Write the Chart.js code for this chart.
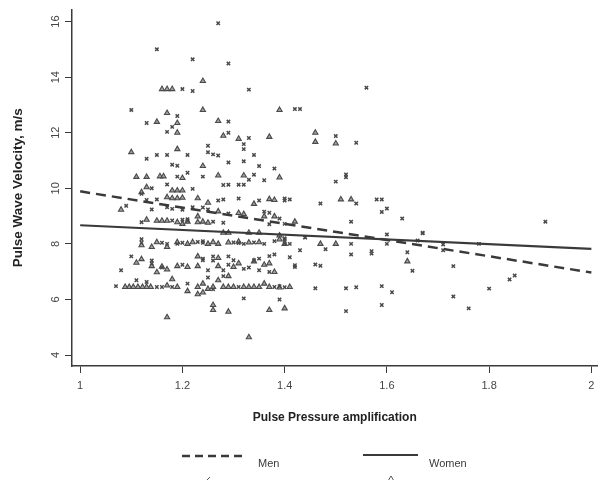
<!DOCTYPE html>
<html>
<head>
<meta charset="utf-8">
<script src="https://cdn.jsdelivr.net/npm/chart.js@4/dist/chart.umd.min.js"></script>
<style>
  html, body { margin: 0; padding: 0; background: #fff; }
  #wrap { width: 603px; height: 480px; position: relative; }
</style>
</head>
<body>
<div id="wrap"><canvas id="pwv-chart"></canvas></div>
<script>
// Pulse wave velocity vs pulse pressure amplification, by sex

const xTicks = [1, 1.2, 1.4, 1.6, 1.8, 2];
const yTicks = [4, 6, 8, 10, 12, 14, 16];

// regression lines (value at x=1 and x=2)
const menFit = [[1, 9.89], [2, 6.97]];
const womenFit = [[1, 8.67], [2, 7.82]];

// men as [ppa, pwv]
const menPoints = [
  [1.27,15.94],[1.15,15.0],[1.22,14.64],[1.29,14.49],[1.20,13.57],[1.22,13.5],[1.33,13.55],[1.56,13.62],
  [1.10,12.82],[1.42,12.85],[1.43,12.85],[1.13,12.35],[1.19,12.6],[1.18,12.21],[1.17,12.03],[1.29,12.4],
  [1.29,12.0],[1.33,11.81],[1.50,11.88],[1.54,11.64],[1.13,11.06],[1.15,11.2],[1.17,11.2],[1.21,11.2],
  [1.25,11.53],[1.25,11.3],[1.26,11.22],[1.27,11.18],[1.32,11.59],[1.32,11.41],[1.34,11.2],[1.18,10.85],
  [1.19,10.81],[1.21,10.56],[1.29,10.93],[1.32,10.97],[1.35,10.8],[1.38,10.71],[1.19,10.42],[1.24,10.42],
  [1.34,10.49],[1.33,10.31],[1.36,10.29],[1.52,10.5],[1.52,10.4],[1.50,10.24],[1.17,10.14],[1.28,10.12],
  [1.29,10.13],[1.31,10.13],[1.32,10.13],[1.14,10.0],[1.22,9.98],[1.12,9.8],[1.13,9.58],[1.15,9.6],
  [1.27,9.56],[1.28,9.6],[1.31,9.63],[1.35,9.56],[1.40,9.63],[1.40,9.56],[1.41,9.6],[1.47,9.45],
  [1.54,9.45],[1.58,9.6],[1.59,9.6],[1.59,9.15],[1.60,9.27],[1.63,8.91],[1.91,8.8],[1.09,9.37],
  [1.14,9.24],[1.17,9.32],[1.18,9.26],[1.20,9.23],[1.22,9.32],[1.24,9.31],[1.25,9.24],[1.29,9.09],
  [1.36,9.16],[1.37,9.12],[1.53,8.8],[1.39,8.91],[1.67,8.38],[1.12,8.78],[1.18,8.84],[1.20,8.87],
  [1.21,8.84],[1.21,8.89],[1.37,8.71],[1.40,8.72],[1.40,8.16],[1.40,8.2],[1.44,8.23],[1.44,8.24],
  [1.60,8.34],[1.66,8.12],[1.67,8.4],[1.41,8.0],[1.53,8.0],[1.60,8.0],[1.71,7.98],[1.78,8.0],
  [1.23,8.07],[1.24,8.04],[1.30,8.05],[1.31,8.03],[1.34,8.05],[1.36,8.0],[1.38,8.1],[1.40,8.02],
  [1.12,8.17],[1.12,8.04],[1.16,8.04],[1.17,8.0],[1.19,8.0],[1.20,8.04],[1.43,7.77],[1.48,7.81],
  [1.53,7.62],[1.57,7.65],[1.57,7.74],[1.64,7.7],[1.71,7.77],[1.41,7.52],[1.42,7.17],[1.42,7.23],
  [1.46,7.26],[1.47,7.21],[1.65,7.03],[1.73,7.2],[1.10,7.55],[1.08,7.05],[1.14,7.4],[1.14,7.29],
  [1.16,7.15],[1.24,7.41],[1.24,7.47],[1.26,7.55],[1.26,7.4],[1.25,7.05],[1.29,7.55],[1.30,7.41],
  [1.28,7.05],[1.32,7.1],[1.33,7.15],[1.34,7.41],[1.35,7.47],[1.35,7.05],[1.37,6.99],[1.37,7.56],
  [1.38,7.62],[1.28,6.84],[1.11,6.69],[1.13,6.63],[1.07,6.48],[1.15,6.45],[1.16,6.45],[1.18,6.45],
  [1.21,6.57],[1.25,6.79],[1.26,6.37],[1.38,6.45],[1.39,6.48],[1.40,6.44],[1.46,6.4],[1.52,6.4],
  [1.54,6.44],[1.59,6.48],[1.61,6.26],[1.80,6.39],[1.84,6.72],[1.85,6.86],[1.73,6.11],[1.32,6.04],
  [1.39,6.0],[1.52,5.58],[1.59,5.8],[1.76,5.68],
  [1.26,8.8],[1.28,8.76],[1.24,8.1],[1.32,8.0],[1.20,7.25],[1.29,7.25],[1.31,6.45]
];

// women
const womenPoints = [
  [1.24,13.86],[1.16,13.57],[1.17,13.57],[1.18,13.57],[1.17,12.71],[1.24,12.82],[1.39,12.82],[1.15,12.39],
  [1.19,12.35],[1.27,12.42],[1.19,12.0],[1.28,11.89],[1.37,11.85],[1.31,11.78],[1.46,12.0],[1.46,11.67],
  [1.50,11.61],[1.10,11.3],[1.19,11.41],[1.24,10.8],[1.11,10.41],[1.13,10.41],[1.156,10.43],[1.163,10.43],
  [1.20,10.37],[1.27,10.46],[1.32,10.46],[1.39,10.39],[1.13,10.04],[1.12,9.86],[1.18,9.92],[1.19,9.92],
  [1.20,9.92],[1.17,9.68],[1.18,9.64],[1.19,9.64],[1.20,9.66],[1.08,9.23],[1.23,9.64],[1.25,9.48],
  [1.34,9.44],[1.37,9.61],[1.38,9.58],[1.51,9.6],[1.53,9.6],[1.27,9.17],[1.31,9.11],[1.32,9.07],
  [1.36,8.99],[1.38,8.99],[1.23,8.99],[1.24,8.8],[1.42,8.8],[1.13,8.87],[1.15,8.83],[1.16,8.83],
  [1.17,8.83],[1.20,8.72],[1.28,8.4],[1.29,8.4],[1.33,8.4],[1.35,8.4],[1.39,8.3],[1.12,7.95],
  [1.14,7.89],[1.17,7.89],[1.21,8.0],[1.39,8.16],[1.40,8.0],[1.47,8.0],[1.50,8.0],[1.25,8.0],
  [1.27,8.0],[1.29,8.05],[1.33,8.05],[1.11,7.32],[1.12,7.45],[1.14,7.2],[1.16,7.18],[1.15,6.98],
  [1.17,7.08],[1.23,7.55],[1.27,7.49],[1.27,7.2],[1.31,7.3],[1.34,7.37],[1.36,7.25],[1.37,7.3],
  [1.38,6.99],[1.64,7.37],[1.29,6.84],[1.088,6.45],[1.096,6.45],[1.104,6.45],[1.113,6.45],[1.122,6.45],
  [1.130,6.45],[1.138,6.45],[1.17,6.5],[1.18,6.73],[1.19,6.45],[1.21,6.3],[1.24,6.57],[1.25,6.38],
  [1.26,6.45],[1.27,6.69],[1.29,6.45],[1.30,6.45],[1.32,6.45],[1.33,6.45],[1.36,6.57],[1.37,6.45],
  [1.41,6.45],[1.39,6.43],[1.17,5.36],[1.23,6.19],[1.26,5.8],[1.26,5.62],[1.29,5.56],[1.37,5.62],
  [1.40,5.68],[1.33,4.64],[1.24,6.25],
  [1.19,8.78],[1.21,8.8],[1.23,8.78],[1.25,8.76],[1.15,8.06],[1.19,8.06],[1.22,8.06],[1.26,8.06],
  [1.31,8.08],[1.35,8.06],[1.19,7.2],[1.21,7.17],[1.23,7.2],[1.30,7.17],[1.23,6.45],[1.28,6.45],
  [1.34,6.45],[1.35,6.45]
];

const ink = '#3a3a3a';
const fontFamily = '"Liberation Sans", Arial, sans-serif';

function toXY(arr) {
  return arr.map(p => ({ x: p[0], y: p[1] }));
}

// legend under the x title, drawn like the R legend
const bottomLegend = {
  id: 'bottomLegend',
  afterDraw(chart) {
    const ctx = chart.ctx;
    ctx.save();
    ctx.strokeStyle = ink;
    ctx.lineWidth = 2.5;
    ctx.setLineDash([8, 5]);
    ctx.beginPath();
    ctx.moveTo(182, 456);
    ctx.lineTo(242, 456);
    ctx.stroke();
    ctx.setLineDash([]);
    ctx.lineWidth = 2.2;
    ctx.beginPath();
    ctx.moveTo(363, 455);
    ctx.lineTo(418, 455);
    ctx.stroke();

    ctx.fillStyle = ink;
    ctx.font = '11px ' + fontFamily;
    ctx.textBaseline = 'middle';
    ctx.fillText('Men', 258, 464);
    ctx.fillText('Women', 429, 464);

    // legend symbols, cut off by the bottom edge
    ctx.lineWidth = 1;
    ctx.strokeStyle = '#555';
    ctx.beginPath();
    ctx.moveTo(210, 477);
    ctx.lineTo(206, 481);
    ctx.moveTo(388, 481);
    ctx.lineTo(391, 476);
    ctx.lineTo(394, 481);
    ctx.stroke();
    ctx.restore();
  }
};

const ctx = document.getElementById('pwv-chart').getContext('2d');

new Chart(ctx, {
  type: 'scatter',
  data: {
    datasets: [
      {
        label: 'Men fit',
        data: toXY(menFit),
        showLine: true,
        borderColor: ink,
        borderWidth: 2.5,
        borderDash: [10, 6],
        pointRadius: 0
      },
      {
        label: 'Women fit',
        data: toXY(womenFit),
        showLine: true,
        borderColor: ink,
        borderWidth: 2.2,
        pointRadius: 0
      },
      {
        label: 'Men',
        data: toXY(menPoints),
        pointStyle: 'crossRot',
        pointRadius: 2.4,
        borderColor: '#4a4a4a',
        borderWidth: 1.5
      },
      {
        label: 'Women',
        data: toXY(womenPoints),
        pointStyle: 'triangle',
        pointRadius: 3,
        borderColor: '#4a4a4a',
        backgroundColor: 'rgba(110,110,110,0.65)',
        borderWidth: 1.1
      }
    ]
  },
  options: {
    responsive: true,
    maintainAspectRatio: false,
    animation: false,
    layout: {
      padding: { top: 8, right: 3, bottom: 44, left: 0 }
    },
    plugins: {
      legend: { display: false },
      tooltip: { enabled: false }
    },
    scales: {
      x: {
        type: 'linear',
        min: 0.984,
        max: 2.012,
        afterBuildTicks: function(scale) {
          scale.ticks = xTicks.map(v => ({ value: v }));
        },
        afterFit: function(scale) {
          scale.height = 70;
        },
        border: { display: true, color: ink, width: 1.5 },
        grid: { display: true, drawOnChartArea: false, drawTicks: true, tickLength: 7, color: ink },
        ticks: {
          color: '#444',
          padding: 6,
          maxRotation: 0,
          font: { family: fontFamily, size: 11 },
          callback: function(value) {
            return String(value);
          }
        },
        title: {
          display: true,
          text: 'Pulse Pressure amplification',
          color: '#222',
          font: { family: fontFamily, size: 12, weight: 'bold' },
          padding: { top: 0, bottom: 11 }
        }
      },
      y: {
        type: 'linear',
        min: 3.606,
        max: 16.43,
        afterBuildTicks: function(scale) {
          scale.ticks = yTicks.map(v => ({ value: v }));
        },
        afterFit: function(scale) {
          scale.width = 72;
        },
        border: { display: true, color: ink, width: 1.5 },
        grid: { display: true, drawOnChartArea: false, drawTicks: true, tickLength: 7, color: ink },
        ticks: {
          color: '#444',
          padding: 3,
          minRotation: 90,
          maxRotation: 90,
          crossAlign: 'center',
          font: { family: fontFamily, size: 11 },
          callback: function(value) {
            return String(value);
          }
        },
        title: {
          display: true,
          text: 'Pulse Wave Velocity, m/s',
          color: '#222',
          font: { family: fontFamily, size: 13.5, weight: 'bold' },
          padding: { top: 10, bottom: 0 }
        }
      }
    }
  },
  plugins: [bottomLegend]
});
</script>
</body>
</html>
